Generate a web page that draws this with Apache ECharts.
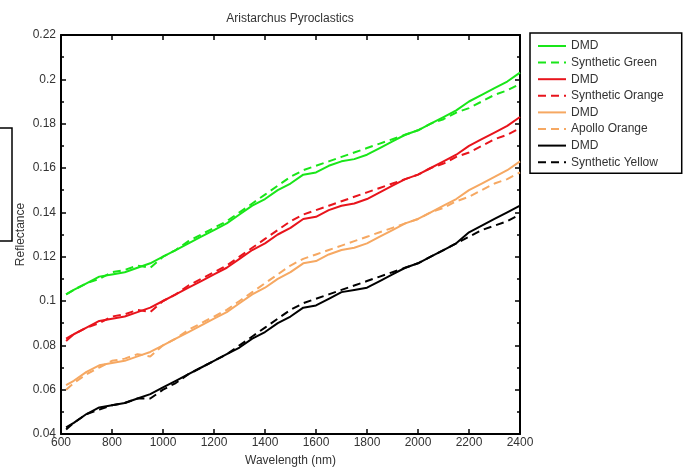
<!DOCTYPE html>
<html lang="en">
  <head>
    <meta charset="UTF-8" />
    <title>Aristarchus Pyroclastics</title>
    <script src="https://cdn.jsdelivr.net/npm/echarts@6/dist/echarts.min.js"></script>
    <style>
      html, body { margin: 0; padding: 0; background: #fff; }
      #main { width: 684px; height: 468px; }
    </style>
  </head>
  <body>
    <div id="main"></div>
    <script>
      // wavelength (nm) sample points
      var wavelength = [620, 650, 700, 750, 800, 850, 900, 950, 1000, 1050, 1100, 1150, 1200,
        1250, 1300, 1350, 1400, 1450, 1500, 1550, 1600, 1650, 1700, 1750, 1800, 1850, 1900,
        1950, 2000, 2050, 2100, 2150, 2200, 2250, 2300, 2350, 2400];

      // reflectance
      var dmdGreen = [0.103, 0.105, 0.108, 0.111, 0.112, 0.113, 0.115, 0.117, 0.120, 0.123, 0.126, 0.129, 0.132,
        0.135, 0.139, 0.143, 0.146, 0.150, 0.153, 0.157, 0.158, 0.161, 0.163, 0.164, 0.166, 0.169, 0.172,
        0.175, 0.177, 0.180, 0.183, 0.186, 0.190, 0.193, 0.196, 0.199, 0.203];
      var synthGreen = [0.103, 0.105, 0.108, 0.110, 0.113, 0.114, 0.116, 0.115, 0.120, 0.123, 0.127, 0.130, 0.133,
        0.136, 0.140, 0.144, 0.148, 0.152, 0.156, 0.159, 0.161, 0.163, 0.165, 0.167, 0.169, 0.171, 0.173,
        0.175, 0.177, 0.180, 0.182, 0.185, 0.187, 0.190, 0.193, 0.195, 0.198];
      var dmdRed = [0.082, 0.085, 0.088, 0.091, 0.092, 0.093, 0.095, 0.097, 0.100, 0.103, 0.106, 0.109, 0.112,
        0.115, 0.119, 0.123, 0.126, 0.130, 0.133, 0.137, 0.138, 0.141, 0.143, 0.144, 0.146, 0.149, 0.152,
        0.155, 0.157, 0.160, 0.163, 0.166, 0.170, 0.173, 0.176, 0.179, 0.183];
      var synthOrange = [0.083, 0.085, 0.088, 0.090, 0.093, 0.094, 0.096, 0.095, 0.100, 0.103, 0.107, 0.110, 0.113,
        0.116, 0.120, 0.124, 0.128, 0.132, 0.136, 0.139, 0.141, 0.143, 0.145, 0.147, 0.149, 0.151, 0.153,
        0.155, 0.157, 0.160, 0.162, 0.165, 0.167, 0.170, 0.173, 0.175, 0.178];
      var dmdOrange = [0.062, 0.064, 0.068, 0.071, 0.072, 0.073, 0.075, 0.077, 0.080, 0.083, 0.086, 0.089, 0.092,
        0.095, 0.099, 0.103, 0.106, 0.110, 0.113, 0.117, 0.118, 0.121, 0.123, 0.124, 0.126, 0.129, 0.132,
        0.135, 0.137, 0.140, 0.143, 0.146, 0.150, 0.153, 0.156, 0.159, 0.163];
      var apolloOrange = [0.060, 0.063, 0.067, 0.070, 0.073, 0.074, 0.076, 0.075, 0.080, 0.083, 0.087, 0.090, 0.093,
        0.096, 0.100, 0.104, 0.108, 0.112, 0.116, 0.119, 0.121, 0.123, 0.125, 0.127, 0.129, 0.131, 0.133,
        0.135, 0.137, 0.140, 0.142, 0.145, 0.147, 0.150, 0.153, 0.155, 0.158];
      var dmdBlack = [0.043, 0.045, 0.049, 0.052, 0.053, 0.054, 0.056, 0.058, 0.061, 0.064, 0.067, 0.070, 0.073,
        0.076, 0.079, 0.083, 0.086, 0.090, 0.093, 0.097, 0.098, 0.101, 0.104, 0.105, 0.106, 0.109, 0.112,
        0.115, 0.117, 0.120, 0.123, 0.126, 0.131, 0.134, 0.137, 0.140, 0.143];
      var synthYellow = [0.042, 0.045, 0.049, 0.051, 0.053, 0.054, 0.056, 0.056, 0.060, 0.063, 0.067, 0.070, 0.073,
        0.076, 0.080, 0.084, 0.088, 0.092, 0.096, 0.099, 0.101, 0.103, 0.105, 0.107, 0.109, 0.111, 0.113,
        0.115, 0.117, 0.120, 0.123, 0.126, 0.129, 0.132, 0.134, 0.136, 0.139];

      var xTicks = { min: 600, max: 2400, step: 200 };
      var yTicks = { min: 0.04, max: 0.22, step: 0.02 };

      function pairs(vals) {
        var out = [];
        for (var i = 0; i < vals.length; i++) out.push([wavelength[i], vals[i]]);
        return out;
      }

      // names carry a suffix so the four "DMD" entries stay separate in the legend
      function mkSeries(name, vals, color, dashed) {
        return {
          name: name,
          type: "line",
          data: pairs(vals),
          symbol: "none",
          showSymbol: false,
          lineStyle: { color: color, width: 2, type: dashed ? [8, 5] : "solid" },
          itemStyle: { color: color },
          emphasis: { disabled: true },
        };
      }

      var font = "Liberation Sans";
      var myChart = echarts.init(document.getElementById("main"));

      var axisLine = { show: true, lineStyle: { color: "#000", width: 2 } };

      var option = {
        animation: false,
        backgroundColor: "#fff",
        textStyle: { fontFamily: font },
        grid: { left: 61, right: 164, top: 35, bottom: 34, outerBoundsMode: "none" },
        legend: {
          orient: "vertical",
          left: 530,
          top: 33,
          padding: [7, 18, 5, 7],
          itemWidth: 28,
          itemHeight: 14,
          itemGap: 4.6,
          borderColor: "#000",
          borderWidth: 1.5,
          selectedMode: false,
          itemStyle: { opacity: 0 },
          textStyle: { fontFamily: font, fontSize: 12, color: "#333" },
          formatter: function (name) { return name.split("|")[0]; },
        },
        xAxis: [
          {
            type: "value", position: "bottom",
            min: xTicks.min, max: xTicks.max, interval: xTicks.step,
            name: "Wavelength (nm)", nameLocation: "middle", nameGap: 21,
            nameTextStyle: { fontFamily: font, fontSize: 12, color: "#333" },
            axisLine: axisLine,
            axisTick: { inside: true, length: 5, lineStyle: { color: "#000", width: 1.5 } },
            axisLabel: { fontFamily: font, fontSize: 12, color: "#333", margin: 3,
              formatter: function (v) { return String(v); } },
            splitLine: { show: false },
          },
          {
            type: "value", position: "top",
            min: xTicks.min, max: xTicks.max, interval: xTicks.step,
            axisLine: axisLine,
            axisTick: { inside: true, length: 5, lineStyle: { color: "#000", width: 1.5 } },
            axisLabel: { show: false },
            splitLine: { show: false },
          },
        ],
        yAxis: [
          {
            type: "value", position: "left",
            min: yTicks.min, max: yTicks.max, interval: yTicks.step,
            name: "Reflectance", nameLocation: "middle", nameGap: 34, nameMoveOverlap: false,
            nameTextStyle: { fontFamily: font, fontSize: 12, color: "#333" },
            axisLine: axisLine,
            axisTick: { inside: true, length: 5, lineStyle: { color: "#000", width: 1.5 } },
            minorTick: { show: true, splitNumber: 2, length: 3, lineStyle: { color: "#000", width: 1.5 } },
            axisLabel: { fontFamily: font, fontSize: 12, color: "#333", margin: 5 },
            splitLine: { show: false },
          },
          {
            type: "value", position: "right",
            min: yTicks.min, max: yTicks.max, interval: yTicks.step,
            axisLine: axisLine,
            axisTick: { inside: true, length: 5, lineStyle: { color: "#000", width: 1.5 } },
            minorTick: { show: true, splitNumber: 2, length: 3, lineStyle: { color: "#000", width: 1.5 } },
            axisLabel: { show: false },
            splitLine: { show: false },
          },
        ],
        graphic: [
          {
            type: "text", x: 290, y: 13,
            style: { text: "Aristarchus Pyroclastics", fill: "#333", font: "12px " + font, textAlign: "center" },
          },
          {
            // edge of the neighbouring panel's legend box
            type: "rect",
            shape: { x: -20, y: 128, width: 32, height: 113 },
            style: { fill: "none", stroke: "#000", lineWidth: 1.5 },
          },
        ],
        series: [
          mkSeries("DMD|g", dmdGreen, "#19e619", false),
          mkSeries("Synthetic Green", synthGreen, "#19e619", true),
          mkSeries("DMD|r", dmdRed, "#e8141c", false),
          mkSeries("Synthetic Orange", synthOrange, "#e8141c", true),
          mkSeries("DMD|o", dmdOrange, "#f6a862", false),
          mkSeries("Apollo Orange", apolloOrange, "#f6a862", true),
          mkSeries("DMD|k", dmdBlack, "#000", false),
          mkSeries("Synthetic Yellow", synthYellow, "#000", true),
        ],
      };

      myChart.setOption(option);
    </script>
  </body>
</html>
